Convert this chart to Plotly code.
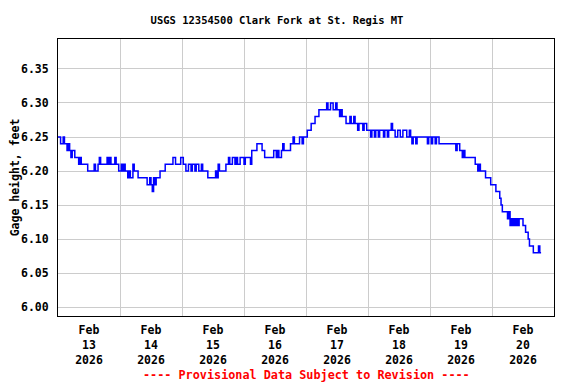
import pandas as pd
import plotly.graph_objects as go

# Gage height (feet), half-hourly readings starting Feb 13 2026 00:00
feb13 = [6.25, 6.25, 6.24, 6.24, 6.25, 6.24, 6.24, 6.23, 6.24, 6.23, 6.22, 6.23,
         6.23, 6.22, 6.22, 6.22, 6.21, 6.22, 6.21, 6.21, 6.21, 6.21, 6.21, 6.20,
         6.20, 6.20, 6.20, 6.20, 6.21, 6.20, 6.20, 6.21, 6.22, 6.21, 6.21, 6.21,
         6.21, 6.21, 6.22, 6.21, 6.22, 6.21, 6.21, 6.21, 6.22, 6.21, 6.21, 6.20]
feb14 = [6.20, 6.21, 6.20, 6.21, 6.20, 6.20, 6.19, 6.20, 6.19, 6.19, 6.21, 6.20,
         6.20, 6.20, 6.19, 6.19, 6.19, 6.19, 6.19, 6.19, 6.19, 6.18, 6.18, 6.19,
         6.18, 6.17, 6.19, 6.18, 6.19, 6.19, 6.19, 6.20, 6.20, 6.20, 6.20, 6.21,
         6.21, 6.21, 6.21, 6.21, 6.21, 6.22, 6.22, 6.21, 6.21, 6.21, 6.21, 6.22]
feb15 = [6.22, 6.21, 6.21, 6.20, 6.20, 6.21, 6.21, 6.20, 6.21, 6.21, 6.20, 6.21,
         6.21, 6.20, 6.20, 6.21, 6.20, 6.20, 6.20, 6.20, 6.19, 6.19, 6.19, 6.19,
         6.19, 6.19, 6.20, 6.19, 6.21, 6.20, 6.20, 6.20, 6.20, 6.20, 6.21, 6.21,
         6.22, 6.21, 6.21, 6.22, 6.22, 6.21, 6.22, 6.21, 6.21, 6.22, 6.22, 6.22]
feb16 = [6.21, 6.22, 6.22, 6.22, 6.22, 6.21, 6.23, 6.23, 6.23, 6.23, 6.24, 6.24,
         6.24, 6.24, 6.23, 6.23, 6.22, 6.22, 6.22, 6.22, 6.22, 6.22, 6.22, 6.23,
         6.23, 6.22, 6.23, 6.22, 6.22, 6.23, 6.24, 6.23, 6.23, 6.23, 6.23, 6.23,
         6.24, 6.24, 6.25, 6.24, 6.24, 6.24, 6.24, 6.25, 6.25, 6.24, 6.25, 6.25]
feb17 = [6.25, 6.26, 6.26, 6.26, 6.27, 6.27, 6.27, 6.28, 6.28, 6.28, 6.29, 6.29,
         6.29, 6.29, 6.29, 6.29, 6.30, 6.29, 6.29, 6.30, 6.30, 6.29, 6.29, 6.30,
         6.29, 6.29, 6.28, 6.29, 6.28, 6.28, 6.28, 6.27, 6.27, 6.27, 6.28, 6.27,
         6.27, 6.28, 6.27, 6.27, 6.26, 6.27, 6.27, 6.27, 6.26, 6.27, 6.27, 6.26]
feb18 = [6.26, 6.26, 6.25, 6.26, 6.26, 6.25, 6.26, 6.26, 6.25, 6.26, 6.26, 6.26,
         6.25, 6.26, 6.26, 6.25, 6.26, 6.26, 6.27, 6.26, 6.26, 6.25, 6.25, 6.26,
         6.26, 6.25, 6.25, 6.26, 6.26, 6.26, 6.25, 6.25, 6.26, 6.25, 6.24, 6.25,
         6.25, 6.24, 6.25, 6.25, 6.25, 6.25, 6.25, 6.25, 6.25, 6.25, 6.24, 6.25]
feb19 = [6.25, 6.24, 6.25, 6.25, 6.24, 6.25, 6.25, 6.24, 6.24, 6.24, 6.24, 6.24,
         6.24, 6.24, 6.24, 6.24, 6.24, 6.24, 6.24, 6.24, 6.23, 6.24, 6.24, 6.23,
         6.23, 6.22, 6.23, 6.22, 6.22, 6.22, 6.22, 6.22, 6.22, 6.22, 6.22, 6.21,
         6.21, 6.20, 6.21, 6.20, 6.20, 6.20, 6.20, 6.19, 6.19, 6.19, 6.19, 6.18]
feb20 = [6.18, 6.18, 6.18, 6.17, 6.17, 6.17, 6.16, 6.15, 6.14, 6.14, 6.14, 6.14,
         6.13, 6.14, 6.12, 6.13, 6.12, 6.13, 6.12, 6.13, 6.12, 6.13, 6.13, 6.13,
         6.12, 6.12, 6.11, 6.11, 6.10, 6.09, 6.09, 6.09, 6.08, 6.08, 6.08, 6.08,
         6.09, 6.08, 6.08]

gage = feb13 + feb14 + feb15 + feb16 + feb17 + feb18 + feb19 + feb20
times = pd.date_range("2026-02-13 00:00", periods=len(gage), freq="30min")

day_label_pos = ["2026-02-13 12:00", "2026-02-14 12:00", "2026-02-15 12:00", "2026-02-16 12:00",
                 "2026-02-17 12:00", "2026-02-18 12:00", "2026-02-19 12:00", "2026-02-20 12:00"]
day_labels = ["Feb<br>13<br>2026", "Feb<br>14<br>2026", "Feb<br>15<br>2026", "Feb<br>16<br>2026",
              "Feb<br>17<br>2026", "Feb<br>18<br>2026", "Feb<br>19<br>2026", "Feb<br>20<br>2026"]
y_ticks = [6.00, 6.05, 6.10, 6.15, 6.20, 6.25, 6.30, 6.35]

FONT = "DejaVu Sans Mono"
W, H = 568, 376  # page body adds an 8px offset

fig = go.Figure(go.Scatter(x=times, y=gage, mode="lines", line_shape="hv",
                           line=dict(color="#0000ff", width=1.5), showlegend=False))

fig.update_layout(
    width=W, height=H,
    margin=dict(l=50, r=22, t=31, b=68, autoexpand=False),
    paper_bgcolor="white", plot_bgcolor="white",
    font=dict(family=FONT, size=11.5, color="black", weight="bold"),
    title=dict(text="USGS 12354500 Clark Fork at St. Regis MT", x=269 / W, xanchor="center",
               xref="container", y=1 - 12 / H, yanchor="middle", yref="container",
               font=dict(family=FONT, size=10.5, color="black", weight="bold")),
    xaxis=dict(range=["2026-02-13 00:00", "2026-02-21 00:00"], automargin=False,
               tickmode="array", tickvals=day_label_pos, ticktext=day_labels,
               showgrid=False, ticks="", showline=True, linecolor="black", linewidth=1,
               mirror=True, zeroline=False, ticklabelstandoff=3,
               tickfont=dict(size=11.5),
               minor=dict(dtick=86400000, tick0="2026-02-13", showgrid=True,
                          gridcolor="#cccccc", gridwidth=1, ticks="")),
    yaxis=dict(range=[5.987, 6.394], tickmode="array", tickvals=y_ticks, automargin=False,
               tickformat=".2f", showgrid=True, gridcolor="#cccccc", gridwidth=1,
               ticks="", showline=True, linecolor="black", linewidth=1, mirror=True,
               zeroline=False, ticklabelstandoff=6, tickfont=dict(size=11.5),
               title=dict(text="Gage height, feet", standoff=8, font=dict(size=11.5))),
    annotations=[dict(text="---- Provisional Data Subject to Revision ----",
                      xref="paper", yref="paper", x=0.5, y=-59 / 277,
                      xanchor="center", yanchor="middle", showarrow=False,
                      font=dict(family=FONT, size=11.8, color="red", weight="bold"))],
)

fig.write_html("out.html")
